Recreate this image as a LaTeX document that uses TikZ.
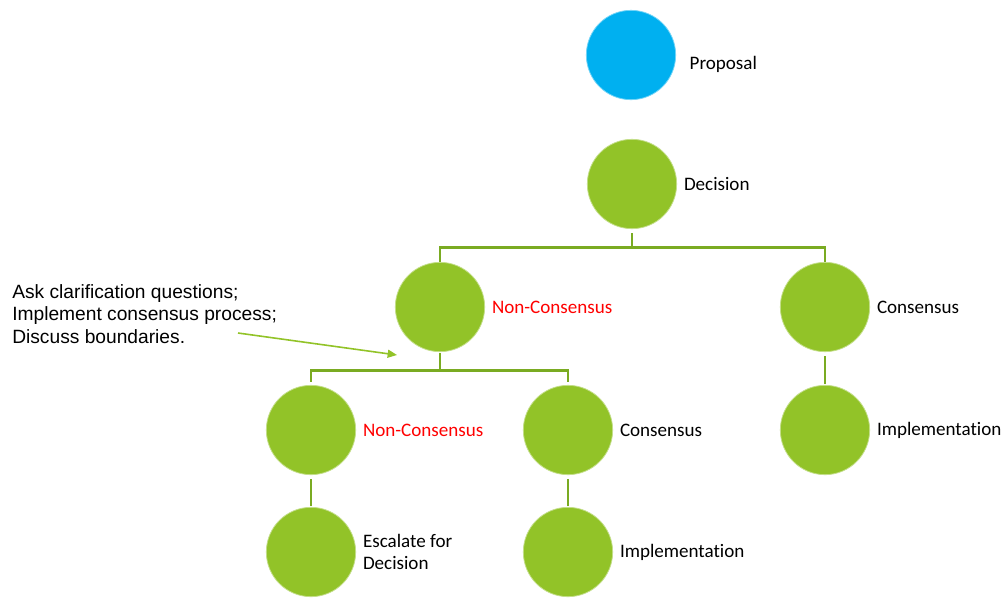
\documentclass[tikz,border=0pt]{standalone}
\usepackage{fontspec}
\setmainfont{Carlito}[Ligatures=CommonOff]
\newfontfamily\notefont{Liberation Sans}
\usetikzlibrary{arrows.meta, positioning}

\definecolor{nodegreen}{RGB}{146,195,40}
\definecolor{linegreen}{RGB}{122,171,34}
\definecolor{propblue}{RGB}{0,176,240}
\definecolor{ncred}{RGB}{255,0,0}

\tikzset{
  ball/.style={draw=nodegreen!55!white, line width=0.6pt, circle, minimum size=67pt, inner sep=0pt, fill=nodegreen},
  tag/.style={inner sep=0pt, anchor=west, font=\fontsize{14.3}{16}\selectfont},
  conn/.style={draw=linegreen, line width=2.2pt},
}

\begin{document}
\begin{tikzpicture}[x=0.75pt, y=-0.75pt]
\useasboundingbox (0,0) rectangle (1008,601);

% circles
\node[ball, fill=propblue, draw=propblue!55!white] at (631,55) (prop) {};
\node[ball] at (632,184) (dec) {};
\node[ball] at (440,307) (nc1) {};
\node[ball] at (825,307) (cons1) {};
\node[ball] at (311,430) (nc2) {};
\node[ball] at (568,430) (cons2) {};
\node[ball] at (825,430) (impl1) {};
\node[ball] at (311,552) (esc) {};
\node[ball] at (568,552) (impl2) {};

% labels
\node[tag, right=10pt of prop, yshift=-7pt] (propl) {Proposal};
\node[tag, right=5pt of dec] (decl) {Decision};
\node[tag, right=5pt of nc1, text=ncred] (nc1l) {Non-Consensus};
\node[tag, right=5pt of cons1] (cons1l) {Consensus};
\node[tag, right=5pt of nc2, text=ncred] (nc2l) {Non-Consensus};
\node[tag, right=5pt of cons2] (cons2l) {Consensus};
\node[tag, right=5pt of impl1] (impl1l) {Implementation};
\node[tag, right=5pt of esc, align=left] (escl) {Escalate for\\Decision};
\node[tag, right=5pt of impl2] (impl2l) {Implementation};

% tree lines
\draw[conn, shorten <=3pt] (dec.south) -- ++(0,18) -| (nc1.north);
\draw[conn, shorten <=3pt] (dec.south) -- ++(0,18) -| (cons1.north);
\draw[conn, shorten <=1pt, shorten >=2pt] (nc1.south) -- ++(0,18) -| (nc2.north);
\draw[conn, shorten <=1pt, shorten >=2pt] (nc1.south) -- ++(0,18) -| (cons2.north);
\draw[conn, shorten <=3pt, shorten >=1pt] (nc2.south) -- (esc.north);
\draw[conn, shorten <=3pt, shorten >=1pt] (cons2.south) -- (impl2.north);
\draw[conn, shorten <=3pt, shorten >=1pt] (cons1.south) -- (impl1.north);

% note
\node[anchor=north west, inner sep=0pt, align=left, font=\notefont\fontsize{14.4}{16.9}\selectfont] at (12,284) (note) {Ask clarification questions;\\Implement consensus process;\\Discuss boundaries.};
\coordinate (notefrom) at (238,333);
\coordinate (noteto) at (397,355);
\draw[draw=nodegreen, line width=1.2pt, -{Triangle[length=7pt, width=6pt]}] (notefrom) -- (noteto);

\end{tikzpicture}
\end{document}
